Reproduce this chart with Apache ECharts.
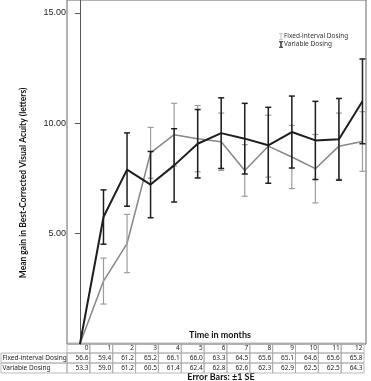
<!DOCTYPE html>
<html>
<head>
<meta charset="utf-8">
<script src="https://cdn.jsdelivr.net/npm/echarts@6/dist/echarts.min.js"></script>
<style>
html,body{margin:0;padding:0;background:#fff;}
#chart{width:371px;height:381px;}
</style>
</head>
<body>
<div id="chart"></div>
<script>
var months = [0,1,2,3,4,5,6,7,8,9,10,11,12];
var fixedMean = [0, 2.85, 4.55, 8.66, 9.48, 9.30, 9.16, 7.86, 8.96, 8.47, 7.94, 8.96, 9.17];
var fixedSE   = [0, 1.04, 1.32, 1.15, 1.42, 1.50, 1.30, 1.17, 1.40, 1.43, 1.55, 1.50, 1.35];
var variableMean = [0, 5.75, 7.90, 7.22, 8.09, 9.07, 9.55, 9.30, 9.00, 9.60, 9.22, 9.27, 10.99];
var variableSE   = [0, 1.23, 1.66, 1.50, 1.66, 1.55, 1.60, 1.60, 1.72, 1.63, 1.77, 1.85, 1.92];
var fixedN    = ['56.6','59.4','61.2','65.2','66.1','66.0','63.3','64.5','65.6','65.1','64.6','65.6','65.8'];
var variableN = ['53.3','59.0','61.2','60.5','61.4','62.4','62.8','62.6','62.3','62.9','62.5','62.5','64.3'];
var seriesNames = ['Fixed-interval Dosing', 'Variable Dosing'];
var yTicks = [5, 10, 15];

var GRAY = '#878787', GRAY_BAR = '#9c9c9c', BLACK = '#1e1e1e';

function pairs(mean){ return months.map(function(m,i){ return [m, mean[i]]; }); }
function errData(mean, se){ return months.map(function(m,i){ return [m, mean[i]-se[i], mean[i]+se[i]]; }); }

function errRender(color, lw){
  return function(params, api){
    var lo = api.value(1), hi = api.value(2);
    if (hi - lo <= 0) return null;
    var x = api.value(0);
    var p1 = api.coord([x, hi]), p2 = api.coord([x, lo]);
    var hw = 3;
    var st = {stroke: color, lineWidth: lw};
    return {type:'group', children:[
      {type:'line', shape:{x1:p1[0], y1:p1[1], x2:p2[0], y2:p2[1]}, style:st},
      {type:'line', shape:{x1:p1[0]-hw, y1:p1[1], x2:p1[0]+hw, y2:p1[1]}, style:st},
      {type:'line', shape:{x1:p2[0]-hw, y1:p2[1], x2:p2[0]+hw, y2:p2[1]}, style:st}
    ]};
  };
}

// table graphics
var tblLeft = 67, colW = 22.85, rowH = 10, tblTop = 343;
var tableEls = [];
var textFont = '6.5px "Noto Sans"';
var cellStroke = {fill:null, stroke:'#a8a8a8', lineWidth:0.8};
months.forEach(function(m, i){
  var x0 = tblLeft + i*colW;
  for (var r = 0; r < 3; r++){
    tableEls.push({type:'rect', shape:{x:x0, y:tblTop + r*rowH, width:colW, height:rowH}, style:cellStroke});
  }
  var vals = [String(m), fixedN[i], variableN[i]];
  vals.forEach(function(v, r){
    tableEls.push({type:'text', x:x0 + colW - 1.5, y:tblTop + r*rowH + rowH/2 + 0.5,
      style:{text:v, font:textFont, fill:'#222', align:'right', verticalAlign:'middle'}});
  });
});
seriesNames.forEach(function(nm, r){
  tableEls.push({type:'rect', shape:{x:1, y:tblTop + (r+1)*rowH, width:tblLeft-1, height:rowH}, style:cellStroke});
  tableEls.push({type:'text', x:2.5, y:tblTop + (r+1)*rowH + rowH/2 + 0.5,
    style:{text:nm, font:textFont, fill:'#222', align:'left', verticalAlign:'middle'}});
});

var chart = echarts.init(document.getElementById('chart'), null, {renderer:'canvas'});
chart.setOption({
  animation:false,
  backgroundColor:'#fff',
  grid:{left:67, right:5, top:0, bottom:37, show:true, borderColor:'#666', borderWidth:1, backgroundColor:'transparent'},
  xAxis:{type:'value', min:-0.55, max:12.15, show:false},
  yAxis:{type:'value', min:0, max:15.58, interval:5,
    axisLine:{show:true, lineStyle:{color:'#555', width:1}},
    axisTick:{show:true, length:5, inside:false, customValues:yTicks, lineStyle:{color:'#555'}},
    axisLabel:{customValues:yTicks, margin:1, fontSize:9, fontFamily:'Liberation Sans', color:'#222',
      formatter:function(v){ return v.toFixed(2); }},
    splitLine:{show:false}
  },
  legend:{orient:'vertical', left:274, top:28, itemWidth:4, itemHeight:7, itemGap:1,
    textStyle:{fontSize:6.5, fontFamily:'Noto Sans', color:'#333', padding:[0,0,0,-4]},
    data:[
      {name:seriesNames[0], icon:'path://M0,0H6V1H3.5V9H6V10H0V9H2.5V1H0Z'},
      {name:seriesNames[1], icon:'path://M0,0H6V1.5H4V8.5H6V10H0V8.5H2V1.5H0Z'}
    ]},
  graphic:[
    {type:'text', x:23, y:183, rotation:Math.PI/2,
      style:{text:'Mean gain in Best-Corrected Visual Acuity (letters)', font:'bold 8.5px Lato', fill:'#111', align:'center', verticalAlign:'middle'}},
    {type:'text', x:220, y:335,
      style:{text:'Time in months', font:'bold 9px Lato', fill:'#111', align:'center', verticalAlign:'middle'}},
    {type:'text', x:221, y:377,
      style:{text:'Error Bars: \u00b11 SE', font:'bold 9px Lato', fill:'#111', align:'center', verticalAlign:'middle'}},
    {type:'group', children:tableEls}
  ],
  series:[
    {name:'fixedLine', type:'line', data:pairs(fixedMean), symbol:'none', lineStyle:{color:GRAY, width:1.5}, itemStyle:{color:GRAY}, z:2},
    {name:seriesNames[0], type:'custom', data:errData(fixedMean, fixedSE), renderItem:errRender(GRAY_BAR, 1.2), itemStyle:{color:GRAY_BAR}, z:3},
    {name:'variableLine', type:'line', data:pairs(variableMean), symbol:'none', lineStyle:{color:BLACK, width:2}, itemStyle:{color:BLACK}, z:4},
    {name:seriesNames[1], type:'custom', data:errData(variableMean, variableSE), renderItem:errRender(BLACK, 1.5), itemStyle:{color:BLACK}, z:5}
  ]
});
</script>
</body>
</html>
